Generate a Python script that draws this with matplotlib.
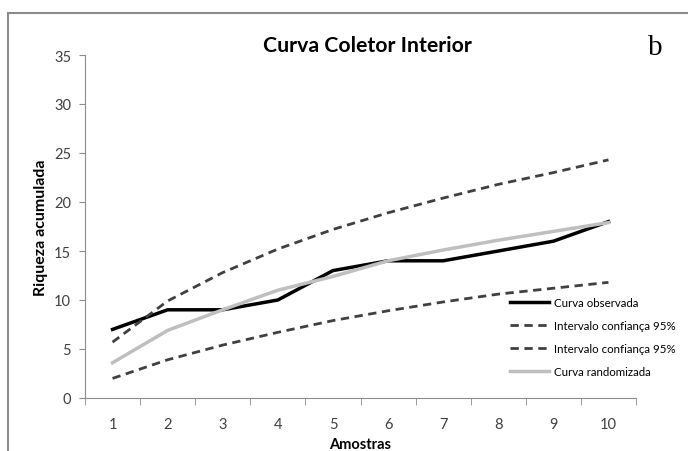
import matplotlib
matplotlib.use("Agg")
import matplotlib.pyplot as plt
from matplotlib.lines import Line2D

plt.rcParams["font.family"] = ["Liberation Sans Narrow", "Lato", "DejaVu Sans"]

amostras = [1, 2, 3, 4, 5, 6, 7, 8, 9, 10]
observada = [7, 9, 9, 10, 13, 14, 14, 15, 16, 18]
ic_sup = [5.7, 9.9, 12.8, 15.2, 17.2, 18.9, 20.4, 21.8, 23.0, 24.3]
ic_inf = [2.0, 3.9, 5.4, 6.7, 7.9, 8.9, 9.8, 10.6, 11.2, 11.8]
randomizada = [3.6, 6.9, 9.0, 11.0, 12.4, 14.0, 15.1, 16.1, 17.0, 17.9]

W, H = 688, 452
fig = plt.figure(figsize=(W / 100, H / 100), dpi=100)
ax = fig.add_axes([85 / W, 1 - 399 / H, (636 - 85) / W, (399 - 56) / H])

# outer frame (cropped at right and bottom)
fig.add_artist(Line2D([8 / W, 8 / W], [0, 1 - 14 / H], color="#8c8c8c", lw=1.5))
fig.add_artist(Line2D([8 / W, 1], [1 - 14 / H, 1 - 14 / H], color="#8c8c8c", lw=1.5))

ax.plot(amostras, observada, color="black", lw=2.5, label="Curva observada")
ax.plot(amostras, ic_sup, color="#404040", lw=2, ls=(0, (3, 2)), label="Intervalo confiança 95%")
ax.plot(amostras, ic_inf, color="#404040", lw=2, ls=(0, (3, 2)), label="Intervalo confiança 95%")
ax.plot(amostras, randomizada, color="#bfbfbf", lw=2.5, label="Curva randomizada")

ax.set_xlim(0.5, 10.5)
ax.set_ylim(0, 35)
ax.set_yticks(range(0, 36, 5))
ax.set_xticks(amostras)
ax.set_xticks([x + 0.5 for x in range(0, 11)], minor=True)
ax.tick_params(axis="x", which="major", length=0, pad=14, labelsize=10.5, colors="#404040")
ax.tick_params(axis="x", which="minor", length=5, color="#8c8c8c")
ax.tick_params(axis="y", length=4, color="#8c8c8c", labelsize=10.5, labelcolor="#404040", pad=6)

for s in ["top", "right"]:
    ax.spines[s].set_visible(False)
for s in ["left", "bottom"]:
    ax.spines[s].set_color("#8c8c8c")

ax.set_xlabel("Amostras", fontsize=10.5, fontweight="bold", labelpad=4)
ax.set_ylabel("Riqueza acumulada", fontsize=11.5, fontweight="bold", labelpad=4)

fig.text(367 / W, 1 - 46 / H, "Curva Coletor Interior", ha="center", va="center",
         fontsize=15.3, fontweight="bold")
fig.text(655 / W, 1 - 48 / H, "b", ha="center", va="center", fontsize=21,
         family="Liberation Serif")

fig.legend(loc="upper left", bbox_to_anchor=(510 / W, 1 - 298 / H), frameon=False,
           fontsize=8.3, borderaxespad=0, borderpad=0,
           handlelength=3.4, handletextpad=0.4, labelspacing=1.05)

fig.savefig("out.png", dpi=100)
